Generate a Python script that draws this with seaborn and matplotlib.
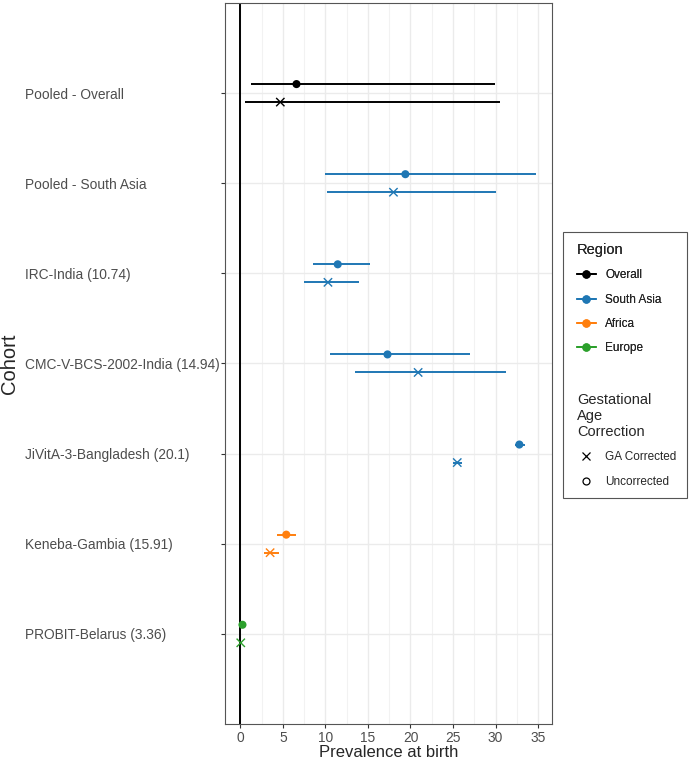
import matplotlib
matplotlib.use("Agg")
import matplotlib.pyplot as plt
from matplotlib.lines import Line2D
from matplotlib.patches import Rectangle
from matplotlib.ticker import MultipleLocator
import pandas as pd
import seaborn as sns

# Data
cohorts = ["Pooled - Overall", "Pooled - South Asia", "IRC-India (10.74)",
           "CMC-V-BCS-2002-India (14.94)", "JiVitA-3-Bangladesh (20.1)",
           "Keneba-Gambia (15.91)", "PROBIT-Belarus (3.36)"]
regions = ["Overall", "South Asia", "South Asia", "South Asia", "South Asia",
           "Africa", "Europe"]

unc_est = [6.6, 19.4, 11.45, 17.3, 32.8, 5.4, 0.25]
unc_lo = [1.2, 9.9, 8.55, 10.5, 32.3, 4.35, 0.0]
unc_hi = [29.9, 34.8, 15.3, 27.0, 33.5, 6.6, 0.5]

ga_est = [4.7, 18.0, 10.3, 20.9, 25.5, 3.5, 0.05]
ga_lo = [0.6, 10.2, 7.5, 13.5, 25.0, 2.75, 0.0]
ga_hi = [30.5, 30.0, 14.0, 31.2, 26.1, 4.5, 0.15]

region_order = ["Overall", "South Asia", "Africa", "Europe"]
palette = {"Overall": "black", "South Asia": "#1f77b4",
           "Africa": "#ff7f0e", "Europe": "#2ca02c"}

# long format table (dodge the two estimates around each cohort row)
rows = []
for i, c in enumerate(cohorts):
    rows.append(dict(cohort=c, region=regions[i], corr="Uncorrected",
                     est=unc_est[i], lo=unc_lo[i], hi=unc_hi[i], ypos=i - 0.1))
    rows.append(dict(cohort=c, region=regions[i], corr="GA Corrected",
                     est=ga_est[i], lo=ga_lo[i], hi=ga_hi[i], ypos=i + 0.1))
df = pd.DataFrame(rows)

sns.set_theme(style="white")
plt.rcParams["font.family"] = ["Liberation Sans", "DejaVu Sans"]

fig = plt.figure(figsize=(6.89, 7.64), dpi=100)
ax = fig.add_axes([0.3266, 0.0525, 0.8007 - 0.3266, 0.9961 - 0.0525])

# grid like theme_bw
ax.xaxis.set_major_locator(MultipleLocator(5))
ax.xaxis.set_minor_locator(MultipleLocator(2.5))
ax.grid(True, which="major", axis="both", color="#ebebeb", lw=1.0, zorder=0)
ax.grid(True, which="minor", axis="x", color="#f2f2f2", lw=0.8, zorder=0)
ax.set_axisbelow(True)

ax.axvline(0, color="black", lw=1.4, zorder=2)

# confidence intervals
ax.hlines(df["ypos"], df["lo"], df["hi"],
          colors=[palette[r] for r in df["region"]], lw=1.4, zorder=3)

unc = df[df["corr"] == "Uncorrected"]
ga = df[df["corr"] == "GA Corrected"]
sns.scatterplot(data=unc, x="est", y="ypos", hue="region", palette=palette,
                marker="o", s=34, linewidth=0, legend=False, ax=ax, zorder=4)
sns.scatterplot(data=ga, x="est", y="ypos", hue="region", palette=palette,
                marker="x", s=36, linewidth=1.0, legend=False, ax=ax, zorder=4)

ax.set_xlim(-1.8, 36.6)
ax.set_ylim(7, -1)
ax.set_yticks(range(len(cohorts)))
ax.set_yticklabels(cohorts)
ax.set_xticks(range(0, 36, 5))

for s in ax.spines.values():
    s.set_color("#555555")
    s.set_linewidth(0.8)

ax.tick_params(axis="both", which="major", length=3, width=0.8,
               color="#333333", labelcolor="#4d4d4d", labelsize=9.9)
ax.tick_params(axis="x", pad=2, bottom=True)
ax.tick_params(axis="y", left=True, pad=141)
for lab in ax.get_yticklabels():
    lab.set_horizontalalignment("left")

ax.set_xlabel("Prevalence at birth", fontsize=12, labelpad=0)
ax.set_ylabel("Cohort", fontsize=14.5)
ax.yaxis.set_label_coords(-0.63, 0.5, transform=ax.transAxes)

# legends inside one shared box
fig.patches.append(Rectangle((0.817, 0.348), 0.180, 0.348,
                             transform=fig.transFigure, fill=False,
                             edgecolor="#555555", lw=0.8))

reg_handles = [Line2D([0], [0], color=palette[r], lw=1.4, marker="o",
                      markersize=5) for r in region_order]
leg1 = fig.legend(reg_handles, region_order, title="Region",
                  loc="upper left", bbox_to_anchor=(0.822, 0.696),
                  frameon=False, fontsize=8.5, title_fontsize=10.5,
                  alignment="left", handlelength=1.6, labelspacing=1.05,
                  handletextpad=0.8)
fig.add_artist(leg1)

corr_handles = [Line2D([0], [0], color="black", lw=0, marker="x",
                       markersize=6, markeredgewidth=0.9),
                Line2D([0], [0], color="black", lw=0, marker="o",
                       markersize=5, markerfacecolor="none",
                       markeredgewidth=0.9)]
leg2 = fig.legend(corr_handles, ["GA Corrected", "Uncorrected"],
                  title="Gestational\nAge\nCorrection",
                  loc="upper left", bbox_to_anchor=(0.822, 0.5),
                  frameon=False, fontsize=8.5, title_fontsize=10.5,
                  alignment="left", handlelength=1.6, labelspacing=1.05,
                  handletextpad=0.8)

fig.savefig("out.png", dpi=100)
